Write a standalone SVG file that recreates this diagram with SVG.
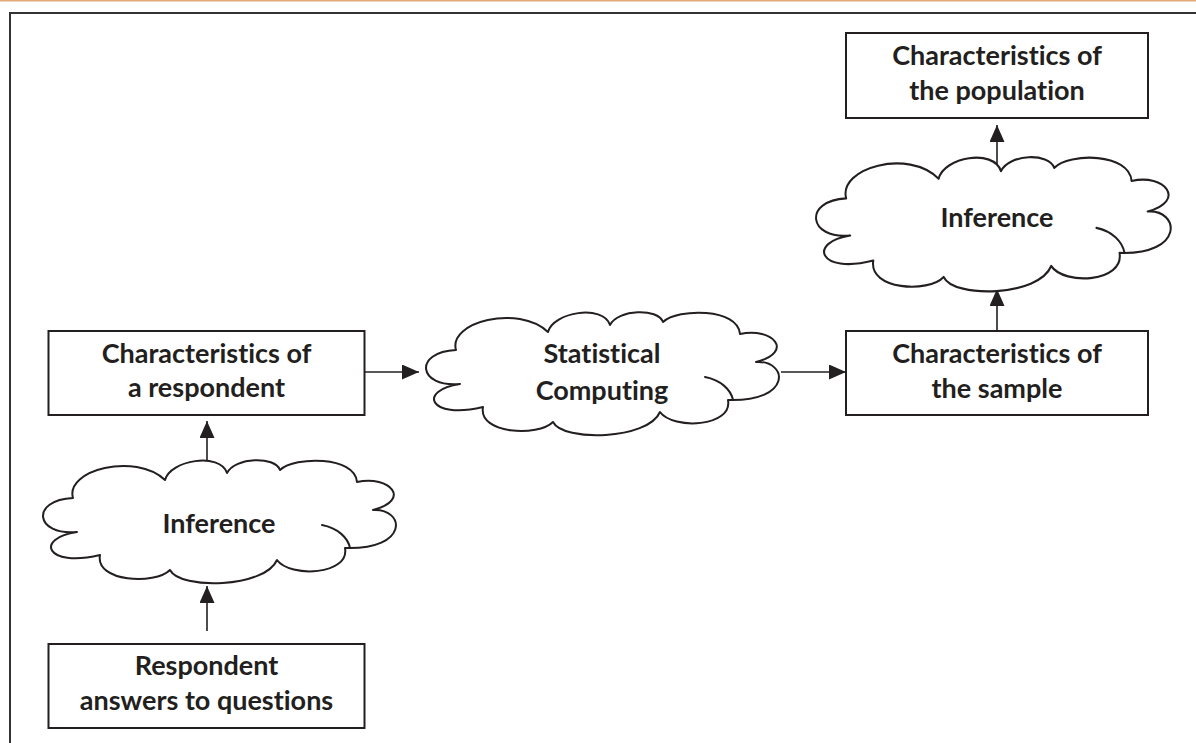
<svg xmlns="http://www.w3.org/2000/svg" width="1196" height="743" viewBox="0 0 1196 743">
<style>
.box{fill:#fff;stroke:#231f20;stroke-width:2}
.cloud{fill:#fff;stroke:#231f20;stroke-width:2;stroke-linejoin:round}
.inner{fill:none;stroke:#231f20;stroke-width:2;stroke-linecap:round}
.t{font-family:Lato,"Liberation Sans",sans-serif;font-weight:bold;font-size:27px;fill:#231f20;text-anchor:middle;font-variant-ligatures:none}
.c{stroke:#231f20;stroke-width:1.6;fill:none;marker-end:url(#ah)}
</style>
<defs>
<marker id="ah" markerUnits="userSpaceOnUse" markerWidth="17" markerHeight="15" refX="17" refY="7.5" orient="auto">
<path d="M0,0 L17,7.5 L0,15 Z" fill="#231f20"/>
</marker>
<path id="cloudshape" d="M37,72 C-5,76 -10,40 33,38 C25,10 95,-8 125,20 C130,0 180,-8 187,13 C195,-3 235,-4 240,10 C255,-4 315,-4 317,22 C350,15 372,40 333,50 C365,48 370,90 305,88 C310,115 250,118 237,100 C225,128 140,130 130,110 C115,125 55,122 60,95 C5,108 -5,78 37,72 Z"/>
<path id="cloudinner" d="M282,65 C298,68 308,78 310,88"/>
</defs>
<rect x="0" y="0" width="1196" height="1.5" fill="#e3a97a"/>
<path d="M10,743 L10,13 L1196,13" fill="none" stroke="#333" stroke-width="2"/>
<g id="connectors">
<line class="c" x1="365" y1="372" x2="419" y2="372"/>
<line class="c" x1="781" y1="372" x2="846" y2="372"/>
<line class="c" x1="997" y1="331" x2="997" y2="289"/>
<line class="c" x1="997" y1="171" x2="997" y2="125"/>
<line class="c" x1="207" y1="466" x2="207" y2="421"/>
<line class="c" x1="207" y1="631" x2="207" y2="586"/>
</g>
<g id="n_respondent">
<rect class="box" x="48.5" y="331" width="316" height="84"/>
<text class="t" x="206.5" y="363">Characteristics of</text>
<text class="t" x="206.5" y="397">a respondent</text>
</g>
<g id="n_answers">
<rect class="box" x="48.5" y="644" width="316" height="84"/>
<text class="t" x="206.5" y="675">Respondent</text>
<text class="t" x="206.5" y="710">answers to questions</text>
</g>
<g id="n_inference1">
<g transform="translate(40,460)">
<use href="#cloudshape" class="cloud"/>
<use href="#cloudinner" class="inner"/>
</g>
<text class="t" x="219" y="533">Inference</text>
</g>
<g id="n_statistical">
<g transform="translate(423,312)">
<use href="#cloudshape" class="cloud"/>
<use href="#cloudinner" class="inner"/>
</g>
<text class="t" x="602" y="363">Statistical</text>
<text class="t" x="602" y="400">Computing</text>
</g>
<g id="n_sample">
<rect class="box" x="846" y="331" width="302" height="84"/>
<text class="t" x="997" y="363">Characteristics of</text>
<text class="t" x="997" y="398">the sample</text>
</g>
<g id="n_inference2">
<g transform="translate(813,157) scale(1.005,1.09)">
<use href="#cloudshape" class="cloud" vector-effect="non-scaling-stroke"/>
<use href="#cloudinner" class="inner" vector-effect="non-scaling-stroke"/>
</g>
<text class="t" x="997" y="227">Inference</text>
</g>
<g id="n_population">
<rect class="box" x="846" y="33" width="302" height="85"/>
<text class="t" x="997" y="65">Characteristics of</text>
<text class="t" x="997" y="100">the population</text>
</g>
</svg>
